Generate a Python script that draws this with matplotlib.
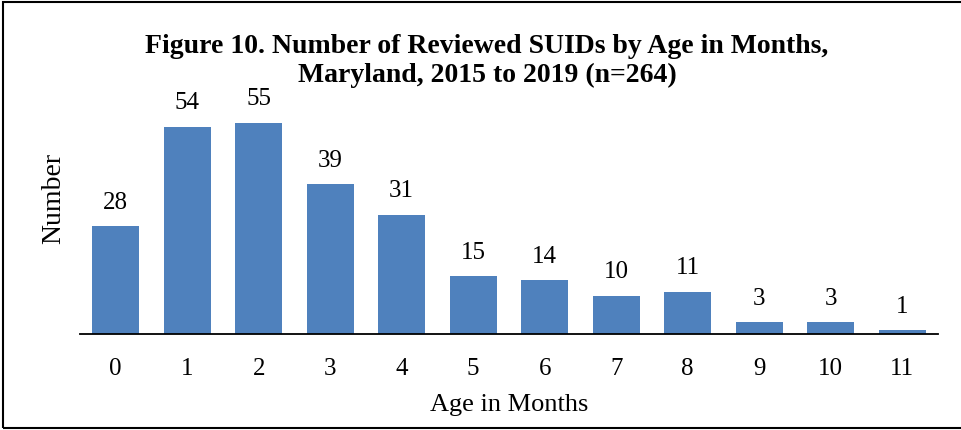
import matplotlib
matplotlib.use('agg')
import matplotlib.pyplot as plt
from matplotlib.patches import Rectangle

# data
ages = ["0", "1", "2", "3", "4", "5", "6", "7", "8", "9", "10", "11"]
counts = [28, 54, 55, 39, 31, 15, 14, 10, 11, 3, 3, 1]

plt.rcParams['font.family'] = ['Liberation Serif', 'DejaVu Serif']

W, H = 962, 430
fig = plt.figure(figsize=(W / 100, H / 100), dpi=100)

# axes placed in pixel terms: x from 80 to 938, baseline at y=334
left, right, base = 80, 938, 334
top = 30
ax = fig.add_axes([left / W, 1 - base / H, (right - left) / W, (base - top) / H])

x = range(len(ages))
bars = ax.bar(x, counts, width=0.66, color="#4f81bd")
ax.set_xlim(-0.5, len(ages) - 0.5)
ax.set_ylim(0, (base - top) / 3.84)

for rect, v in zip(bars, counts):
    ax.annotate(str(v), (rect.get_x() + rect.get_width() / 2, v),
                xytext=(0, 9), textcoords="offset points",
                ha="center", va="bottom", fontsize=18)

for s in ["top", "right", "left"]:
    ax.spines[s].set_visible(False)
ax.spines["bottom"].set_linewidth(1.3)
ax.set_yticks([])
ax.set_xticks(list(x))
ax.set_xticklabels(ages, fontsize=18)
ax.tick_params(axis="x", length=0, pad=17)

ax.set_xlabel("Age in Months", fontsize=19, va="center")
ax.xaxis.set_label_coords(0.5, (base - 405) / (base - top))
ax.set_ylabel("Number", fontsize=20, va="center")
ax.yaxis.set_label_coords((54 - left) / (right - left), (base - 198) / (base - top))

fig.text(487 / W, 1 - 61 / H, "Figure 10. Number of Reviewed SUIDs by Age in Months,\n"
         "Maryland, 2015 to 2019 (n=264)", ha="center", va="center",
         fontsize=20, fontweight="bold", linespacing=1.2)

# outer frame
fig.patches.append(Rectangle((3 / W, 1 - 428 / H), 1.05, (428 - 2) / H,
                             transform=fig.transFigure, fill=False,
                             edgecolor="black", linewidth=1.5))

fig.savefig("out.png", dpi=100)
